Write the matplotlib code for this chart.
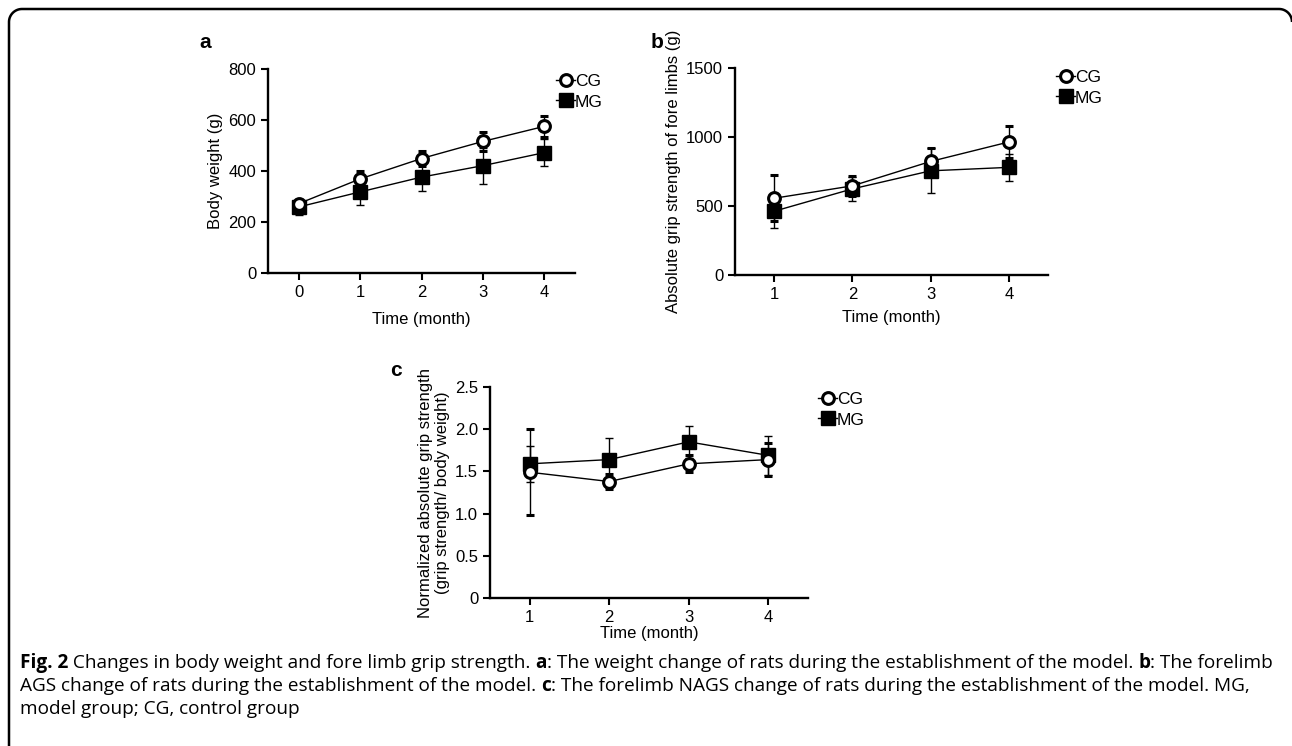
import numpy as np
import matplotlib
matplotlib.use("Agg")
import matplotlib.pyplot as plt
from matplotlib.lines import Line2D

plt.rcParams['font.family'] = ['Liberation Sans', 'DejaVu Sans']

# panel a: body weight
months_a = [0, 1, 2, 3, 4]
cg_weight = [272, 369, 449, 516, 575]
cg_weight_err = [15, 30, 30, 36, 42]
mg_weight = [259, 318, 376, 421, 472]
mg_weight_err = [33, 51, 53, 71, 53]

# panel b: absolute grip strength
months_b = [1, 2, 3, 4]
cg_grip = [556, 646, 823, 964]
cg_grip_err = [167, 72, 94, 118]
mg_grip = [462, 624, 755, 780]
mg_grip_err = [118, 85, 162, 97]

# panel c: normalized grip strength
months_c = [1, 2, 3, 4]
cg_norm = [1.49, 1.38, 1.59, 1.64]
cg_norm_err = [0.51, 0.09, 0.10, 0.20]
mg_norm = [1.59, 1.64, 1.85, 1.69]
mg_norm_err = [0.21, 0.26, 0.19, 0.23]

W, H = 1292, 746
fig = plt.figure(figsize=(W / 100, H / 100), dpi=100)

FS = 12


def px_axes(x0, y0, x1, y1):
    # pixel box (top-left origin) -> figure fraction axes
    return fig.add_axes([x0 / W, 1 - y1 / H, (x1 - x0) / W, (y1 - y0) / H])


def draw_panel(ax, x, cg, cge, mg, mge):
    ax.errorbar(x, cg, yerr=cge, color='black', lw=1.0, elinewidth=1.0,
                capsize=3, capthick=1.0, marker='o', ms=8.5, mfc='white',
                mec='black', mew=2.2, zorder=3)
    ax.errorbar(x, mg, yerr=mge, color='black', lw=1.0, elinewidth=1.0,
                capsize=3, capthick=1.0, marker='s', ms=10, mfc='black',
                mec='black', zorder=2)
    for s in ['top', 'right']:
        ax.spines[s].set_visible(False)
    for s in ['left', 'bottom']:
        ax.spines[s].set_linewidth(1.7)
    ax.tick_params(direction='out', length=5, width=1.5, labelsize=FS)
    ax.set_xticks(x)


def add_legend(x, y):
    handles = [Line2D([], [], color='black', lw=1.0, marker='o', ms=8.5,
                      mfc='white', mec='black', mew=2.2),
               Line2D([], [], color='black', lw=1.0, marker='s', ms=10,
                      mfc='black', mec='black')]
    fig.legend(handles, ['CG', 'MG'], loc='upper left',
               bbox_to_anchor=(x / W, 1 - y / H), frameon=False,
               fontsize=FS + 0.5, handlelength=1.1, handletextpad=0.0,
               labelspacing=0.3, borderpad=0, borderaxespad=0)


# panel a
ax_a = px_axes(268, 69, 575, 273)
draw_panel(ax_a, months_a, cg_weight, cg_weight_err, mg_weight, mg_weight_err)
ax_a.set_xlim(-0.5, 4.5)
ax_a.set_ylim(0, 800)
ax_a.set_yticks([0, 200, 400, 600, 800])
ax_a.set_ylabel('Body weight (g)', fontsize=FS)
ax_a.set_xlabel('Time (month)', fontsize=FS, labelpad=9)
add_legend(556, 74)
fig.text(205 / W, 1 - 42 / H, 'a', fontsize=15, fontweight='bold',
         ha='center', va='center')

# panel b
ax_b = px_axes(735, 68, 1048, 275)
draw_panel(ax_b, months_b, cg_grip, cg_grip_err, mg_grip, mg_grip_err)
ax_b.set_xlim(0.5, 4.5)
ax_b.set_ylim(0, 1500)
ax_b.set_yticks([0, 500, 1000, 1500])
ax_b.set_ylabel('Absolute grip strength of fore limbs (g)', fontsize=FS)
ax_b.set_xlabel('Time (month)', fontsize=FS, labelpad=6)
add_legend(1056, 70)
fig.text(657 / W, 1 - 42 / H, 'b', fontsize=15, fontweight='bold',
         ha='center', va='center')

# panel c
ax_c = px_axes(490, 387, 808, 598)
draw_panel(ax_c, months_c, cg_norm, cg_norm_err, mg_norm, mg_norm_err)
ax_c.set_xlim(0.5, 4.5)
ax_c.set_ylim(0, 2.5)
ax_c.set_yticks([0, 0.5, 1.0, 1.5, 2.0, 2.5])
ax_c.set_yticklabels(['0', '0.5', '1.0', '1.5', '2.0', '2.5'])
ax_c.set_ylabel('Normalized absolute grip strength\n(grip strength/ body weight)',
                fontsize=FS, linespacing=1.15)
ax_c.set_xlabel('Time (month)', fontsize=FS, labelpad=1)
add_legend(818, 392)
fig.text(396 / W, 1 - 371 / H, 'c', fontsize=15, fontweight='bold',
         ha='center', va='center')

# overlay for frame and caption, pixel coordinates
ov = fig.add_axes([0, 0, 1, 1], zorder=-1)
ov.set_xlim(0, W)
ov.set_ylim(H, 0)
ov.axis('off')

# open frame: left side and top, rounded top corners
r = 13
left, top, right = 9, 9, 1292
t1 = np.linspace(np.pi, 1.5 * np.pi, 20)
t2 = np.linspace(1.5 * np.pi, 2 * np.pi, 20)
fx = np.concatenate([[left], left + r + r * np.cos(t1), right - r + r * np.cos(t2)])
fy = np.concatenate([[H + 5], top + r + r * np.sin(t1), top + r + r * np.sin(t2)])
ov.plot(fx, fy, color='black', lw=1.8, solid_capstyle='butt')

caption_lines = [
    [('Fig. 2', True), (' Changes in body weight and fore limb grip strength. ', False),
     ('a', True), (': The weight change of rats during the establishment of the model. ', False),
     ('b', True), (': The forelimb', False)],
    [('AGS change of rats during the establishment of the model. ', False),
     ('c', True), (': The forelimb NAGS change of rats during the establishment of the model. MG,', False)],
    [('model group; CG, control group', False)],
]
caption_y = [663, 686, 709]

fig.canvas.draw()
renderer = fig.canvas.get_renderer()


def place_line(parts, y, size):
    x = 20
    for txt, bold in parts:
        t = ov.text(x, y, txt, fontsize=size, family='Open Sans',
                    fontweight='bold' if bold else 'normal', va='center', ha='left')
        ext = t.get_window_extent(renderer=renderer)
        x += ext.width
    return x


# fit the first caption line to the reference width
cap_size = 12
end = place_line(caption_lines[0], -100, cap_size)
for t in list(ov.texts):
    t.remove()
cap_size = cap_size * (1268 - 20) / (end - 20)

for parts, y in zip(caption_lines, caption_y):
    place_line(parts, y, cap_size)

fig.savefig('out.png', dpi=100)
